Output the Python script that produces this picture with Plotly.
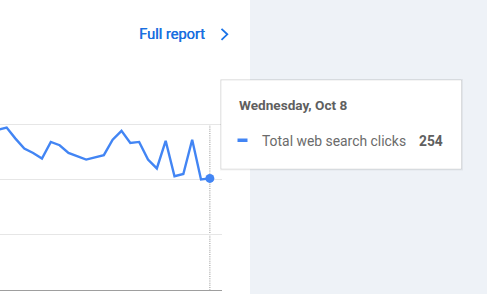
import plotly.graph_objects as go
import pandas as pd

# ---- data ----
dates = list(pd.date_range("2025-09-14", "2025-10-08", freq="D"))
clicks = [298, 300, 290, 281, 277, 272, 287, 284, 277, 274, 271, 273, 275,
          289, 297, 286, 287, 271, 263, 288, 256, 258, 289, 253, 254]
series_name = "Total web search clicks"
tooltip_date = "Wednesday, Oct 8"
tooltip_value = "254"
link_text = "Full report"

W, H = 487, 294
PL, PR, PT, PB = 0, 222, 110, 290

def px(x):
    return (x - PL) / (PR - PL)

def py(y):
    return (PB - y) / (PB - PT)

BLUE = "#4285f4"
fig = go.Figure()
fig.add_trace(go.Scatter(x=dates, y=clicks, mode="lines",
                         line=dict(color=BLUE, width=2.4), hoverinfo="skip"))
fig.add_trace(go.Scatter(x=[dates[-1]], y=[clicks[-1]], mode="markers",
                         marker=dict(color=BLUE, size=9), hoverinfo="skip"))

x0 = pd.Timestamp("2025-09-15") - pd.Timedelta(hours=18)
x1 = pd.Timestamp("2025-10-08") + pd.Timedelta(hours=33)

shapes = []
# dotted vertical line
shapes.append(dict(type="line", xref="x", yref="y", x0=dates[-1], x1=dates[-1],
                   y0=303, y1=153, line=dict(color="#a6a6a6", width=1.2, dash="1px,1.2px"),
                   layer="below"))
# right panel
shapes.append(dict(type="rect", xref="paper", yref="paper", x0=px(250), x1=px(490),
                   y0=py(-2), y1=py(296), fillcolor="#eef2f7", line=dict(width=0),
                   layer="below"))
# tooltip shadow
shapes.append(dict(type="rect", xref="paper", yref="paper", x0=px(220), x1=px(463),
                   y0=py(170.5), y1=py(79), fillcolor="rgba(0,0,0,0.05)",
                   line=dict(width=0), layer="above"))
shapes.append(dict(type="rect", xref="paper", yref="paper", x0=px(221), x1=px(461.5),
                   y0=py(169), y1=py(80), fillcolor="white",
                   line=dict(color="rgba(0,0,0,0.09)", width=1), layer="above"))
# legend dash
shapes.append(dict(type="rect", xref="paper", yref="paper", x0=px(237.5), x1=px(247.5),
                   y0=py(142), y1=py(138.5), fillcolor=BLUE, line=dict(width=0),
                   layer="above"))
# chevron
shapes.append(dict(type="path", xref="paper", yref="paper",
                   path=f"M {px(221.5)} {py(28.8)} L {px(227.3)} {py(34.3)} L {px(221.5)} {py(39.8)}",
                   line=dict(color="#1a73e8", width=1.8), layer="above"))

annotations = [
    dict(text=link_text, xref="paper", yref="paper", x=px(136.5), y=py(34.5),
         xanchor="left", yanchor="middle", showarrow=False,
         font=dict(family="Roboto", size=14.6, color="#1a6fe0",
                   shadow="0.45px 0px 0px #1a6fe0")),
    dict(text=f"<b>{tooltip_date}</b>", xref="paper", yref="paper", x=px(236.5), y=py(104.5),
         xanchor="left", yanchor="middle", showarrow=False,
         font=dict(family="Roboto", size=13.6, color="#5f5f5f")),
    dict(text=series_name, xref="paper", yref="paper", x=px(259.5), y=py(141),
         xanchor="left", yanchor="middle", showarrow=False,
         font=dict(family="Roboto", size=13.9, color="#6b6b6b")),
    dict(text=f"<b>{tooltip_value}</b>", xref="paper", yref="paper", x=px(445.5), y=py(141),
         xanchor="right", yanchor="middle", showarrow=False,
         font=dict(family="Roboto", size=13.8, color="#5f5f5f")),
]

fig.update_layout(
    width=W, height=H, autosize=False,
    margin=dict(l=PL, r=W - PR, t=PT, b=H - PB, pad=0),
    paper_bgcolor="white", plot_bgcolor="white",
    showlegend=False, hovermode=False,
    shapes=shapes, annotations=annotations,
    xaxis=dict(type="date", range=[x0, x1], showgrid=False, showticklabels=False,
               zeroline=False, showline=True, linecolor="#9e9e9e", linewidth=1.3,
               fixedrange=True),
    yaxis=dict(range=[153, 315.9], tick0=153, dtick=50, showgrid=True,
               gridcolor="#e6e6e6", gridwidth=1, showticklabels=False,
               zeroline=False, showline=False, fixedrange=True),
)

fig.write_html("out.html", config={"displayModeBar": False})
